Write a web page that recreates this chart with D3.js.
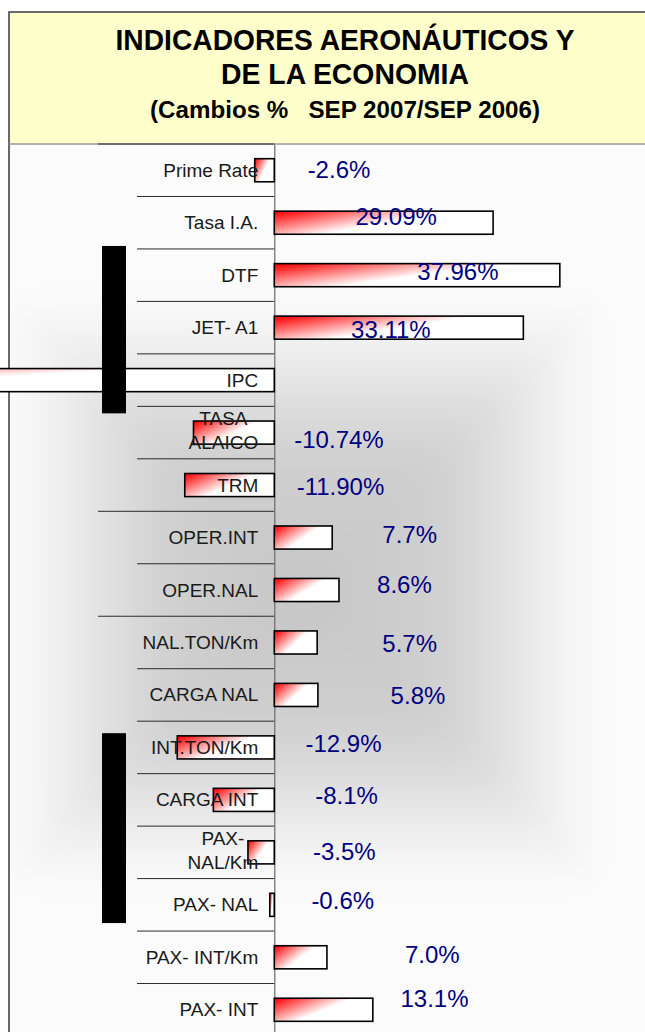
<!DOCTYPE html>
<html>
<head>
<meta charset="utf-8">
<script src="https://cdn.jsdelivr.net/npm/d3@7"></script>
<style>
  html, body { margin: 0; padding: 0; background: #fff; }
  svg { display: block; }
  text { font-family: "Liberation Sans", Arial, sans-serif; }
</style>
</head>
<body>
<div id="chart"></div>
<script>
// Indicadores aeronauticos y de la economia, cambios % SEP 2007 / SEP 2006
const categories = ["Prime Rate", "Tasa I.A.", "DTF", "JET- A1", "IPC", "TASA ALAICO", "TRM",
  "OPER.INT", "OPER.NAL", "NAL.TON/Km", "CARGA NAL", "INT.TON/Km", "CARGA INT",
  "PAX-NAL/Km", "PAX- NAL", "PAX- INT/Km", "PAX- INT"];
const values = [-2.6, 29.09, 37.96, 33.11, -90, -10.74, -11.90, 7.7, 8.6, 5.7, 5.8,
  -12.9, -8.1, -3.5, -0.6, 7.0, 13.1];
const valueLabels = ["-2.6%", "29.09%", "37.96%", "33.11%", "", "-10.74%", "-11.90%", "7.7%",
  "8.6%", "5.7%", "5.8%", "-12.9%", "-8.1%", "-3.5%", "-0.6%", "7.0%", "13.1%"];
const titleLines = ["INDICADORES AERONÁUTICOS Y", "DE LA ECONOMIA", "(Cambios %   SEP 2007/SEP 2006)"];

// labels were dragged by hand in the original: centre along the value axis, and px offset
const labelAt = [8.6, 16.2, 24.4, 15.5, 0, 8.6, 8.8, 18.0, 17.3, 18.0, 19.1, 9.2, 9.6, 9.3, 9.1, 21.0, 21.3];
const labelDy = [-1, -6, -4, 1.5, 0, 6.5, 1, -3.5, -6, 1, 0.5, -3.5, -4.5, -1, -4.5, -3, -11];
const wrapped = { "TASA ALAICO": ["TASA", "ALAICO"], "PAX-NAL/Km": ["PAX-", "NAL/Km"] };
const longRules = [0, 7, 9];

const width = 645, height = 1032;
const plot = { left: 8, right: 600, top: 144, bottom: 1036 };

const svg = d3.select("#chart").append("svg")
  .attr("width", width)
  .attr("height", height);

const defs = svg.append("defs");

const x = d3.scaleLinear()
  .domain([-35.4, 43.3])
  .range([plot.left, plot.right]);

const y = d3.scaleBand()
  .domain(categories)
  .range([plot.top, plot.bottom])
  .paddingInner(0.56)
  .paddingOuter(0.28);

const boundary = i => plot.top + i * y.step();
const x0 = x(0);

// plot area: grey "from centre" fill (square pyramid, softened)
const cx = (plot.left + plot.right) / 2, cy = 592, half = 300;
const sq = { l: cx - half, r: cx + half, t: cy - half, b: cy + half };
const stops = [[0, "#fbfbfb"], [0.15, "#f2f2f2"], [0.35, "#e0e0e0"], [0.55, "#d0d0d0"], [1, "#c6c6c6"]];
const tris = [
  { pts: [[sq.l, sq.t], [sq.r, sq.t]], g: [cx, sq.t] },
  { pts: [[sq.r, sq.t], [sq.r, sq.b]], g: [sq.r, cy] },
  { pts: [[sq.r, sq.b], [sq.l, sq.b]], g: [cx, sq.b] },
  { pts: [[sq.l, sq.b], [sq.l, sq.t]], g: [sq.l, cy] }
];
tris.forEach((t, i) => {
  const lg = defs.append("linearGradient").attr("id", "bg" + i)
    .attr("gradientUnits", "userSpaceOnUse")
    .attr("x1", t.g[0]).attr("y1", t.g[1]).attr("x2", cx).attr("y2", cy);
  stops.forEach(s => lg.append("stop").attr("offset", s[0]).attr("stop-color", s[1]));
});
defs.append("filter").attr("id", "soft")
  .attr("x", "-10%").attr("y", "-10%").attr("width", "120%").attr("height", "120%")
  .append("feGaussianBlur").attr("stdDeviation", 14);
defs.append("clipPath").attr("id", "plotClip")
  .append("rect")
  .attr("x", plot.left).attr("y", plot.top)
  .attr("width", width - plot.left).attr("height", plot.bottom - plot.top);

const bg = svg.append("g").attr("clip-path", "url(#plotClip)");
bg.append("rect")
  .attr("x", plot.left).attr("y", plot.top)
  .attr("width", width - plot.left).attr("height", plot.bottom - plot.top)
  .attr("fill", "#fbfbfb");
bg.append("g").attr("filter", "url(#soft)")
  .selectAll("path")
  .data(tris)
  .enter()
  .append("path")
  .attr("d", t => "M" + t.pts[0] + "L" + t.pts[1] + "L" + [cx, cy] + "Z")
  .attr("fill", (t, i) => `url(#bg${i})`)
  .attr("stroke", (t, i) => `url(#bg${i})`)
  .attr("stroke-width", 1);

// title box
svg.append("rect")
  .attr("x", 9).attr("y", 12)
  .attr("width", 700).attr("height", plot.top - 12)
  .attr("fill", "#ffffcc");
svg.append("path")
  .attr("d", `M9,${height}V12H${width + 10}`)
  .attr("fill", "none")
  .attr("stroke", "#3a3a3a")
  .attr("stroke-width", 1.5);
svg.append("line")
  .attr("x1", 9).attr("x2", width)
  .attr("y1", plot.top).attr("y2", plot.top)
  .attr("stroke", "#9a9a9a")
  .attr("stroke-width", 1.5);

const titleSpec = [
  { size: 27, base: 49.5, len: 459 },
  { size: 27, base: 83.5, len: 248 },
  { size: 21, base: 117.5, len: 390 }
];
svg.append("g").selectAll("text")
  .data(titleLines)
  .enter()
  .append("text")
  .attr("transform", (d, i) => `translate(345,${titleSpec[i].base}) scale(1,1.1)`)
  .attr("text-anchor", "middle")
  .attr("font-weight", "bold")
  .attr("font-size", (d, i) => titleSpec[i].size)
  .attr("textLength", (d, i) => titleSpec[i].len)
  .attr("lengthAdjust", "spacingAndGlyphs")
  .style("white-space", "pre")
  .attr("fill", "#000")
  .text(d => d);

// category separators on the left of the axis
svg.append("g").selectAll("line")
  .data(d3.range(categories.length + 1))
  .enter()
  .append("line")
  .attr("x1", i => longRules.includes(i) ? 98 : 137)
  .attr("x2", x0)
  .attr("y1", i => boundary(i))
  .attr("y2", i => boundary(i))
  .attr("stroke", "#2a2a2a")
  .attr("stroke-width", 1);

// value axis at zero
svg.append("g")
  .attr("transform", `translate(${x0},0)`)
  .call(d3.axisLeft(y).tickSize(0).tickFormat(""))
  .call(g => g.select(".domain").attr("stroke", "#6a6a6a").attr("stroke-width", 1.2));

// bars
const grad = defs.append("linearGradient").attr("id", "barFill")
  .attr("x1", 0).attr("y1", 0).attr("x2", 1).attr("y2", 0.58);
grad.append("stop").attr("offset", 0).attr("stop-color", "#ff0000");
grad.append("stop").attr("offset", 0.12).attr("stop-color", "#ff2a2a");
grad.append("stop").attr("offset", 0.6).attr("stop-color", "#ffffff");

svg.append("g").selectAll("rect")
  .data(values)
  .enter()
  .append("rect")
  .attr("x", d => Math.min(x0, x(d)))
  .attr("y", (d, i) => y(categories[i]))
  .attr("width", d => Math.abs(x(d) - x0))
  .attr("height", y.bandwidth())
  .attr("fill", "url(#barFill)")
  .attr("stroke", "#000")
  .attr("stroke-width", 1.6);

// category labels
const catG = svg.append("g")
  .attr("font-size", 19)
  .attr("fill", "#1a1a1a");
categories.forEach(c => {
  const cyc = y(c) + y.bandwidth() / 2;
  const lines = wrapped[c];
  if (!lines) {
    catG.append("text")
      .attr("x", x0 - 16)
      .attr("y", cyc + 6.5)
      .attr("text-anchor", "end")
      .style("white-space", "pre")
      .text(c);
  } else {
    const t = catG.append("text").attr("text-anchor", "middle");
    lines.forEach((l, k) => t.append("tspan").attr("y", cyc - 2 + (k - 0.5) * 24 + 6.5).text(l));
    const w = d3.max(t.selectAll("tspan").nodes(), n => n.getComputedTextLength());
    t.selectAll("tspan").attr("x", x0 - 16 - w / 2);
  }
});

// value labels
svg.append("g").selectAll("text")
  .data(valueLabels)
  .enter()
  .append("text")
  .attr("x", (d, i) => x(labelAt[i]))
  .attr("y", (d, i) => y(categories[i]) + y.bandwidth() / 2 + labelDy[i] + 8.5)
  .attr("text-anchor", "middle")
  .attr("font-size", 24)
  .attr("fill", "#000080")
  .text(d => d);

// two black blocks lying over the chart
const blocks = [[2, -3, 5, 7], [11, 12, 15, -8]];
svg.append("g").selectAll("rect")
  .data(blocks)
  .enter()
  .append("rect")
  .attr("x", 102)
  .attr("width", 24)
  .attr("y", b => boundary(b[0]) + b[1])
  .attr("height", b => boundary(b[2]) + b[3] - boundary(b[0]) - b[1])
  .attr("fill", "#000");
</script>
</body>
</html>
